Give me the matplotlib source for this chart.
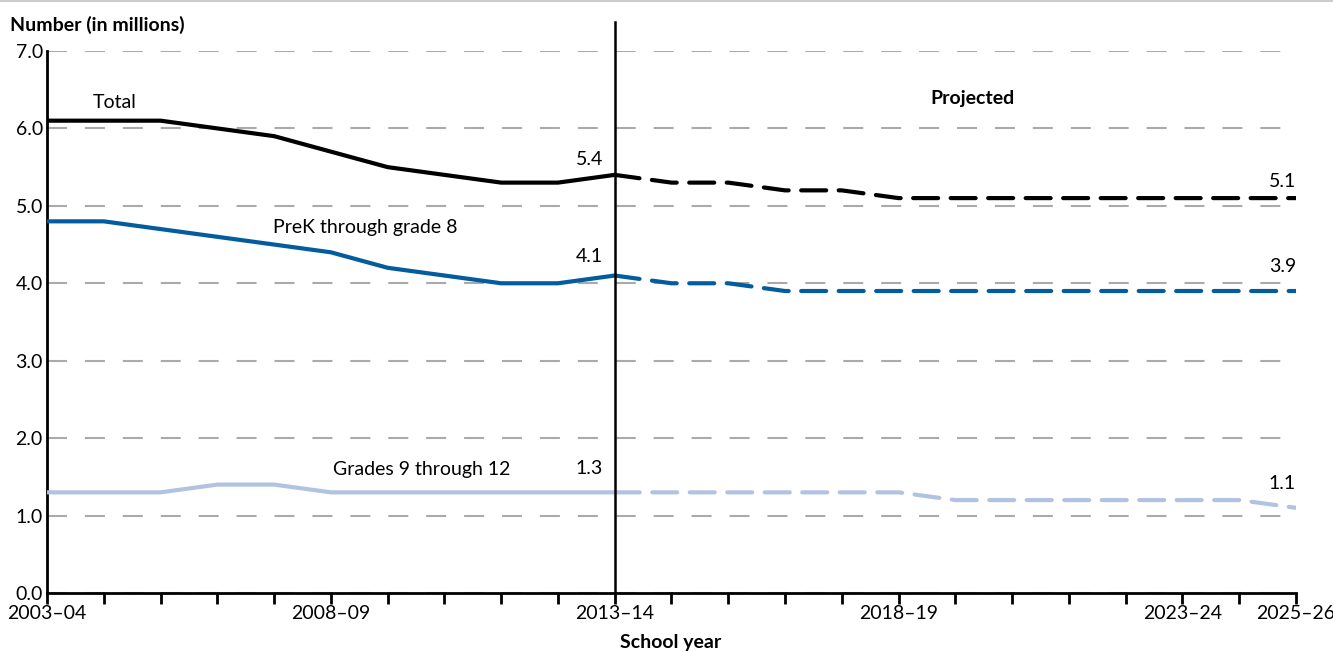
import numpy as np
import matplotlib.pyplot as plt
from matplotlib.lines import Line2D

plt.rcParams['font.family'] = ['Lato', 'DejaVu Sans']

years = ["2003\u201304", "2008\u201309", "2013\u201314", "2018\u201319", "2023\u201324", "2025\u201326"]
year_pos = [0, 5, 10, 15, 20, 22]

# actual values 2003-04 .. 2013-14
total_act = [6.1, 6.1, 6.1, 6.0, 5.9, 5.7, 5.5, 5.4, 5.3, 5.3, 5.4]
prek_act = [4.8, 4.8, 4.7, 4.6, 4.5, 4.4, 4.2, 4.1, 4.0, 4.0, 4.1]
hs_act = [1.3, 1.3, 1.3, 1.4, 1.4, 1.3, 1.3, 1.3, 1.3, 1.3, 1.3]
# projected 2013-14 .. 2025-26
total_proj = [5.4, 5.3, 5.3, 5.2, 5.2, 5.1, 5.1, 5.1, 5.1, 5.1, 5.1, 5.1, 5.1]
prek_proj = [4.1, 4.0, 4.0, 3.9, 3.9, 3.9, 3.9, 3.9, 3.9, 3.9, 3.9, 3.9, 3.9]
hs_proj = [1.3, 1.3, 1.3, 1.3, 1.3, 1.3, 1.2, 1.2, 1.2, 1.2, 1.2, 1.2, 1.1]

black = "#000000"
dark_blue = "#035c9e"
light_blue = "#b2c3e2"

fig = plt.figure(figsize=(13.33, 6.52), dpi=100)
ax = fig.add_axes([0.0353, 0.0905, 0.9369, 0.8313])

x_act = np.arange(len(total_act))
x_proj = np.arange(10, 10 + len(total_proj))

for act, proj, c in [(hs_act, hs_proj, light_blue), (prek_act, prek_proj, dark_blue), (total_act, total_proj, black)]:
    ax.plot(x_act, act, color=c, lw=3, solid_capstyle="butt", zorder=3)
    ax.plot(x_proj, proj, color=c, lw=3, linestyle=(0, (6, 3)), dash_capstyle="round", zorder=3)

fs = 14
ax.set_xlim(0, 22)
ax.set_ylim(0, 7)
ax.set_yticks(np.arange(0, 8, 1))
ax.set_yticklabels([f"{v:.1f}" for v in range(8)], fontsize=fs)
ax.set_xticks(np.arange(0, 23))
labels = [""] * 23
for p, l in zip(year_pos, years):
    labels[p] = l
ax.set_xticklabels(labels, fontsize=fs)
ax.tick_params(axis="x", length=8, width=2, direction="out", pad=1)
ax.tick_params(axis="y", length=0, pad=3)

ax.grid(axis="y", color="#aaaaaa", lw=1.5, linestyle=(0, (9.6, 8.6)), zorder=1)
ax.grid(axis="x", visible=False)
for s in ["top", "right"]:
    ax.spines[s].set_visible(False)
ax.spines["left"].set_linewidth(2)
ax.spines["bottom"].set_linewidth(2)

# divider for projections
ax.plot([10, 10], [0, 7.37], color="black", lw=1.8, clip_on=False, zorder=4)

ax.text(1.2, 6.34, "Total", fontsize=fs, ha="center", va="center")
ax.text(5.6, 4.72, "PreK through grade 8", fontsize=fs, ha="center", va="center")
ax.text(6.6, 1.59, "Grades 9 through 12", fontsize=fs, ha="center", va="center")
ax.text(16.3, 6.38, "Projected", fontsize=fs, fontweight="bold", ha="center", va="center")

ax.text(9.55, 5.6, "5.4", fontsize=fs, ha="center", va="center")
ax.text(9.55, 4.34, "4.1", fontsize=fs, ha="center", va="center")
ax.text(9.55, 1.61, "1.3", fontsize=fs, ha="center", va="center")
ax.text(22, 5.31, "5.1", fontsize=fs, ha="right", va="center")
ax.text(22, 4.22, "3.9", fontsize=fs, ha="right", va="center")
ax.text(22, 1.42, "1.1", fontsize=fs, ha="right", va="center")

fig.text(0.0075, 0.962, "Number (in millions)", fontsize=fs, fontweight="bold", ha="left", va="center")
fig.text(0.503, 0.014, "School year", fontsize=fs, fontweight="bold", ha="center", va="center")

fig.add_artist(Line2D([0, 1], [0.998, 0.998], color="#cccccc", lw=1.5, transform=fig.transFigure))

fig.savefig("out.png", dpi=100)
